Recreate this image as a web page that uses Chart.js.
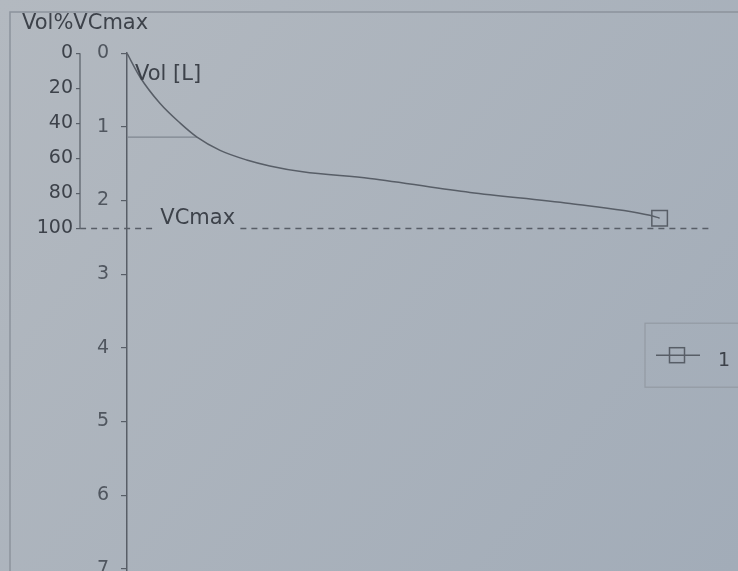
<!DOCTYPE html>
<html>
<head>
<meta charset="utf-8">
<script src="https://cdn.jsdelivr.net/npm/chart.js@4.4.1/dist/chart.umd.min.js"></script>
<style>
  html, body { margin: 0; padding: 0; background: #acb4be; }
  #wrap { width: 738px; height: 571px; }
</style>
</head>
<body>
<div id="wrap"><canvas id="spiro"></canvas></div>
<script>
// volume-time curve (x in s, y in L)
const timeS = [0, 0.19, 0.47, 0.76, 1.0, 1.33, 1.71, 2.04, 2.51, 3.47, 4.9, 6.33, 7.47, 7.61];
const volL  = [0, 0.33, 0.68, 0.95, 1.14, 1.32, 1.45, 1.53, 1.61, 1.70, 1.89, 2.04, 2.20, 2.24];
const vcMax = 2.38;
const fev1 = { t: 1.0, vol: 1.14 };
const vcLineX = [-0.67, 0.4, 1.62, 8.33]; // gap in the middle for the "VCmax" text
const volTicks = [0, 1, 2, 3, 4, 5, 6, 7];
const pctTicks = [0, 20, 40, 60, 80, 100];
const volMax = 7.03;
const tMax = 8.73;

const FONT = '"DejaVu Sans", sans-serif';
const textColor = '#3d424a';
const lineColor = '#585e67';

const decor = {
  id: 'decor',
  beforeDraw(chart) {
    const { ctx, width, height } = chart;
    const g = ctx.createLinearGradient(0, 0, width, height);
    g.addColorStop(0, '#b3b9c0');
    g.addColorStop(1, '#a2acb8');
    ctx.save();
    ctx.fillStyle = g;
    ctx.fillRect(0, 0, width, height);
    // panel frame
    ctx.strokeStyle = '#8c939c';
    ctx.lineWidth = 1.5;
    ctx.beginPath();
    ctx.moveTo(10, height);
    ctx.lineTo(10, 12);
    ctx.lineTo(width, 12);
    ctx.stroke();
    ctx.restore();
  },
  afterDraw(chart) {
    const { ctx, chartArea, scales } = chart;
    const pct = scales.pct, vol = scales.vol, x = scales.x;
    ctx.save();
    // short Vol%VCmax axis line (0..100 only)
    ctx.strokeStyle = lineColor;
    ctx.lineWidth = 1.2;
    ctx.beginPath();
    ctx.moveTo(pct.right, pct.getPixelForValue(pctTicks[0]));
    ctx.lineTo(pct.right, pct.getPixelForValue(pctTicks[pctTicks.length - 1]));
    ctx.stroke();

    ctx.fillStyle = textColor;
    ctx.font = '21px ' + FONT;
    ctx.textBaseline = 'alphabetic';
    ctx.textAlign = 'left';
    ctx.fillText('Vol [L]', chartArea.left + 8, vol.getPixelForValue(0) + 27);
    ctx.textAlign = 'center';
    ctx.fillText('VCmax', x.getPixelForValue((vcLineX[1] + vcLineX[2]) / 2), vol.getPixelForValue(vcMax) - 5);

    // legend box
    const ds = chart.data.datasets[0];
    const left = chartArea.right - 93, top = chartArea.top + 270;
    ctx.strokeStyle = '#939aa3';
    ctx.lineWidth = 1.2;
    ctx.strokeRect(left, top, 100, 64);
    ctx.strokeStyle = ds.borderColor;
    ctx.lineWidth = 1.5;
    ctx.beginPath();
    ctx.moveTo(left + 11, top + 32);
    ctx.lineTo(left + 55, top + 32);
    ctx.stroke();
    ctx.strokeRect(left + 24.5, top + 24.5, 15, 15);
    ctx.textAlign = 'left';
    ctx.font = '19px ' + FONT;
    ctx.fillText(ds.label, left + 73, top + 43);
    ctx.restore();
  }
};

new Chart(document.getElementById('spiro'), {
  type: 'line',
  data: {
    datasets: [
      {
        label: '1',
        data: timeS.map((t, i) => ({ x: t, y: volL[i] })),
        yAxisID: 'vol',
        borderColor: lineColor,
        borderWidth: 1.5,
        cubicInterpolationMode: 'monotone',
        pointStyle: 'rect',
        pointRadius: timeS.map((t, i) => (i === timeS.length - 1 ? 11 : 0)),
        pointBorderColor: lineColor,
        pointBackgroundColor: 'rgba(0,0,0,0)',
        pointBorderWidth: 1.5
      },
      {
        label: 'FEV1',
        data: [{ x: 0, y: fev1.vol }, { x: fev1.t, y: fev1.vol }],
        yAxisID: 'vol',
        borderColor: '#7f868f',
        borderWidth: 1.3,
        pointRadius: 0
      },
      {
        label: 'VCmax',
        data: [
          { x: vcLineX[0], y: vcMax }, { x: vcLineX[1], y: vcMax },
          { x: (vcLineX[1] + vcLineX[2]) / 2, y: null },
          { x: vcLineX[2], y: vcMax }, { x: vcLineX[3], y: vcMax }
        ],
        yAxisID: 'vol',
        borderColor: lineColor,
        borderWidth: 1.5,
        borderDash: [6, 5],
        pointRadius: 0,
        spanGaps: false,
        clip: false
      }
    ]
  },
  options: {
    responsive: true,
    maintainAspectRatio: false,
    animation: false,
    layout: { autoPadding: false, padding: { left: 22, right: 0, top: 0, bottom: 0 } },
    plugins: {
      legend: { display: false },
      tooltip: { enabled: false },
      title: {
        display: true,
        text: 'Vol%VCmax',
        align: 'start',
        color: textColor,
        font: { family: FONT, size: 21, weight: 'normal' },
        padding: { top: 11, bottom: 17 }
      }
    },
    scales: {
      x: { type: 'linear', min: 0, max: tMax, display: false },
      pct: {
        type: 'linear',
        position: 'left',
        weight: 1,
        reverse: true,
        min: 0,
        max: 100 * volMax / vcMax,
        afterBuildTicks: s => { s.ticks = pctTicks.map(v => ({ value: v })); },
        afterFit: s => { s.width = 58; s.paddingTop = 0; s.paddingBottom = 0; },
        border: { display: false },
        grid: { drawOnChartArea: false, tickLength: 4, color: lineColor, lineWidth: 1.2 },
        ticks: { autoSkip: false, padding: 3, color: textColor, font: { family: FONT, size: 19 } }
      },
      vol: {
        type: 'linear',
        position: 'left',
        weight: 0,
        reverse: true,
        min: 0,
        max: volMax,
        afterBuildTicks: s => { s.ticks = volTicks.map(v => ({ value: v })); },
        afterFit: s => { s.width = 47; s.paddingTop = 0; s.paddingBottom = 0; },
        border: { display: true, dash: [3, 3], color: lineColor, width: 1.5 },
        grid: { drawOnChartArea: false, tickLength: 6, color: lineColor, lineWidth: 1.2 },
        ticks: { autoSkip: false, padding: 12, color: '#50565f', font: { family: FONT, size: 19 } }
      }
    }
  },
  plugins: [decor]
});
</script>
</body>
</html>
